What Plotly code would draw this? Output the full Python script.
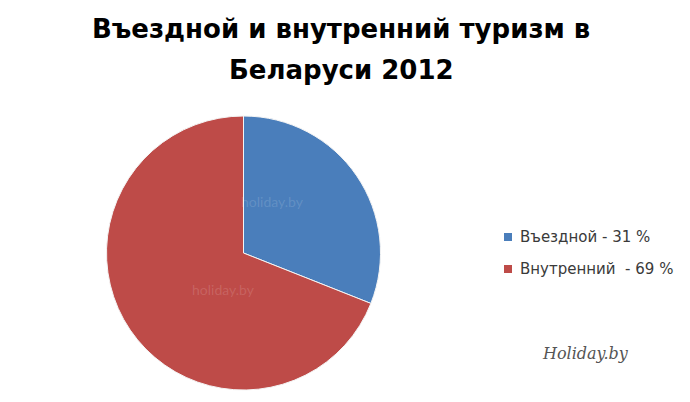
import plotly.graph_objects as go

labels = ["Въездной - 31 %", "Внутренний  - 69 %"]
values = [31, 69]
colors = ["#4A7EBB", "#BE4B48"]
title_lines = ["Въездной и внутренний туризм в", "Беларуси 2012"]

W, H = 690, 402

fig = go.Figure(go.Pie(
    labels=labels,
    values=values,
    sort=False,
    direction="clockwise",
    rotation=0,
    textinfo="none",
    hoverinfo="label",
    showlegend=False,
    marker=dict(colors=colors, line=dict(color="#F4F4F4", width=1)),
    domain=dict(x=[106 / W, 381 / W], y=[(H - 390) / H, (H - 116) / H]),
))

fig.update_layout(
    width=W, height=H,
    margin=dict(l=0, r=0, t=0, b=0),
    paper_bgcolor="white",
    plot_bgcolor="white",
)

# title (two lines)
title_y = [29, 70]
for txt, yy in zip(title_lines, title_y):
    fig.add_annotation(x=341 / W, y=1 - yy / H, xref="paper", yref="paper",
                       xanchor="center", yanchor="middle", text="<b>%s</b>" % txt,
                       showarrow=False,
                       font=dict(family="DejaVu Sans", size=26, color="#000000"))

# legend (built from labels / colors)
leg_y = [237, 269]
for lab, col, yy in zip(labels, colors, leg_y):
    fig.add_shape(type="rect", xref="paper", yref="paper",
                  x0=504 / W, x1=512 / W, y0=1 - (yy - 4) / H, y1=1 - (yy + 4) / H,
                  fillcolor=col, line=dict(width=0))
    fig.add_annotation(x=518 / W, y=1 - yy / H, xref="paper", yref="paper",
                       xanchor="left", yanchor="middle", text=lab, showarrow=False,
                       font=dict(family="DejaVu Sans", size=15, color="#3A3A3A"))

# watermarks
for (wx, wy) in [(272, 201), (190, 300)]:
    fig.add_annotation(x=wx / W, y=1 - wy / H, xref="paper", yref="paper",
                       text="holiday.by", showarrow=False,
                       font=dict(family="Lato", size=14, color="rgba(255,255,255,0.14)"))
fig.add_annotation(x=631 / W, y=1 - 365 / H, xref="paper", yref="paper",
                   text="<i>Holiday.by</i>", showarrow=False,
                   font=dict(family="DejaVu Serif", size=16, color="#555555"))

fig.write_html("out.html", config={"displayModeBar": False},
               post_script="document.body.style.margin='0';")
